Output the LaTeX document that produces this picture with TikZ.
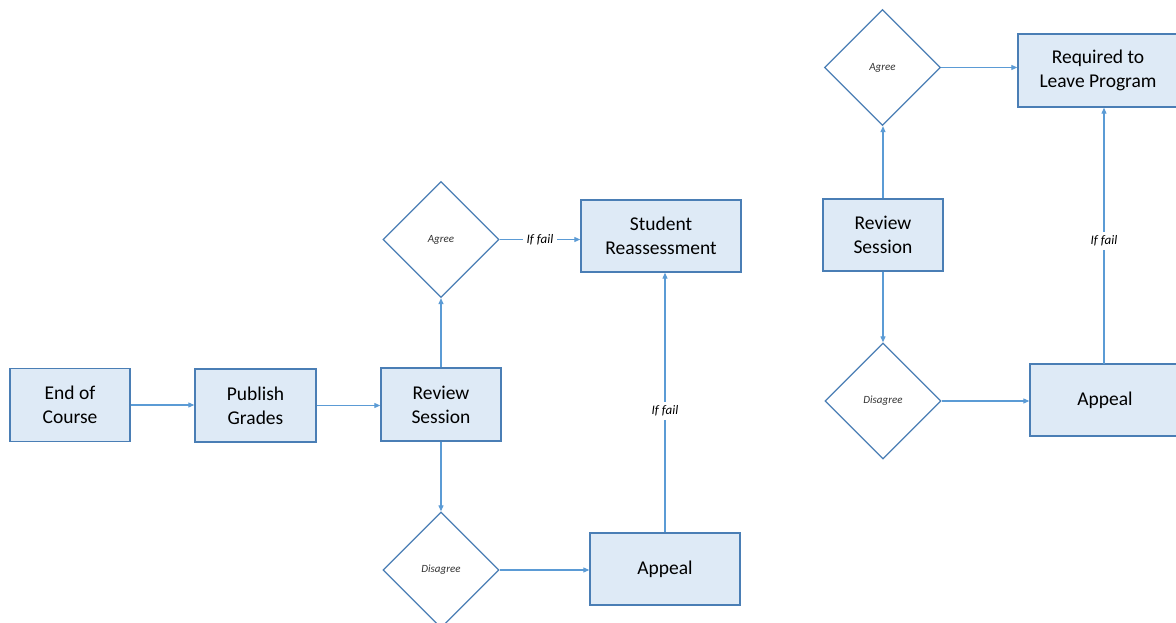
\documentclass[tikz,border=0pt]{standalone}
\usepackage{fontspec}
\setmainfont{Carlito}
\usetikzlibrary{shapes.geometric,arrows.meta}
\definecolor{boxfill}{HTML}{DEEAF6}
\definecolor{boxline}{HTML}{4A7EB5}
\definecolor{conn}{HTML}{5B9BD5}
\tikzset{
  x=1pt, y=-1pt,
  procbox/.style={draw=boxline, line width=1.4pt, fill=boxfill, rectangle, inner sep=0pt,
    minimum width=120pt, minimum height=73pt, align=center, text=black,
    font=\fontsize{19.5}{24}\selectfont},
  decide/.style={draw=boxline, line width=1.3pt, fill=white, diamond, aspect=1, inner sep=0pt,
    minimum width=116pt, minimum height=116pt, font=\fontsize{11}{12}\selectfont\itshape, text=black!80},
  flow/.style={draw=conn, line width=1.1pt, -{Triangle[length=6pt,width=5pt]}},
  faillabel/.style={fill=white, inner sep=4pt, font=\fontsize{13}{15}\selectfont\itshape, text=black}
}
\begin{document}
\begin{tikzpicture}
\clip (0,0) rectangle (1176,623);
\fill[white] (0,0) rectangle (1176,623);
% left part
\node[procbox] (end) at (70,405) {End of\\Course};
\node[procbox, minimum width=121pt] (pub) at (255.5,405.5) {Publish\\Grades};
\node[procbox] (rev1) at (441,404.5) {Review\\Session};
\node[decide] (agr1) at (441,239.5) {Agree};
\node[decide] (dis1) at (441,570) {Disagree};
\node[procbox, minimum width=160pt, minimum height=72pt] (reas) at (661,236) {Student\\Reassessment};
\node[procbox, minimum width=150pt, minimum height=72pt] (app1) at (665,569) {Appeal};
% right part
\node[decide] (agr2) at (882.5,67.5) {Agree};
\node[procbox, minimum width=160pt] (req) at (1098,70.5) {Required to\\Leave Program};
\node[procbox, minimum width=120pt, minimum height=72pt] (rev2) at (883,235) {Review\\Session};
\node[decide] (dis2) at (883,401) {Disagree};
\node[procbox, minimum width=150pt, minimum height=72pt] (app2) at (1105,400) {Appeal};
% connectors
\draw[flow] (end.east) -- (end.east -| pub.west);
\draw[flow] (pub.east) -- (pub.east -| rev1.west);
\draw[flow] (rev1.north) -- (agr1.south);
\draw[flow] (rev1.south) -- (dis1.north);
\draw[flow] (agr1.east) -- node[faillabel] {If fail} (agr1.east -| reas.west);
\draw[flow] (dis1.east) -- (dis1.east -| app1.west);
\draw[flow] (app1.north) -- node[faillabel, pos=0.467] {If fail} (app1.north |- reas.south);
\draw[flow] (rev2.north) -- (rev2.north |- agr2.south);
\draw[flow] (agr2.east) -- (agr2.east -| req.west);
\draw[flow] (rev2.south) -- (rev2.south |- dis2.north);
\draw[flow] (dis2.east) -- (dis2.east -| app2.west);
\coordinate (a2top) at (1104,364);
\draw[flow] (a2top) -- node[faillabel, pos=0.48] {If fail} (a2top |- req.south);
\end{tikzpicture}
\end{document}
